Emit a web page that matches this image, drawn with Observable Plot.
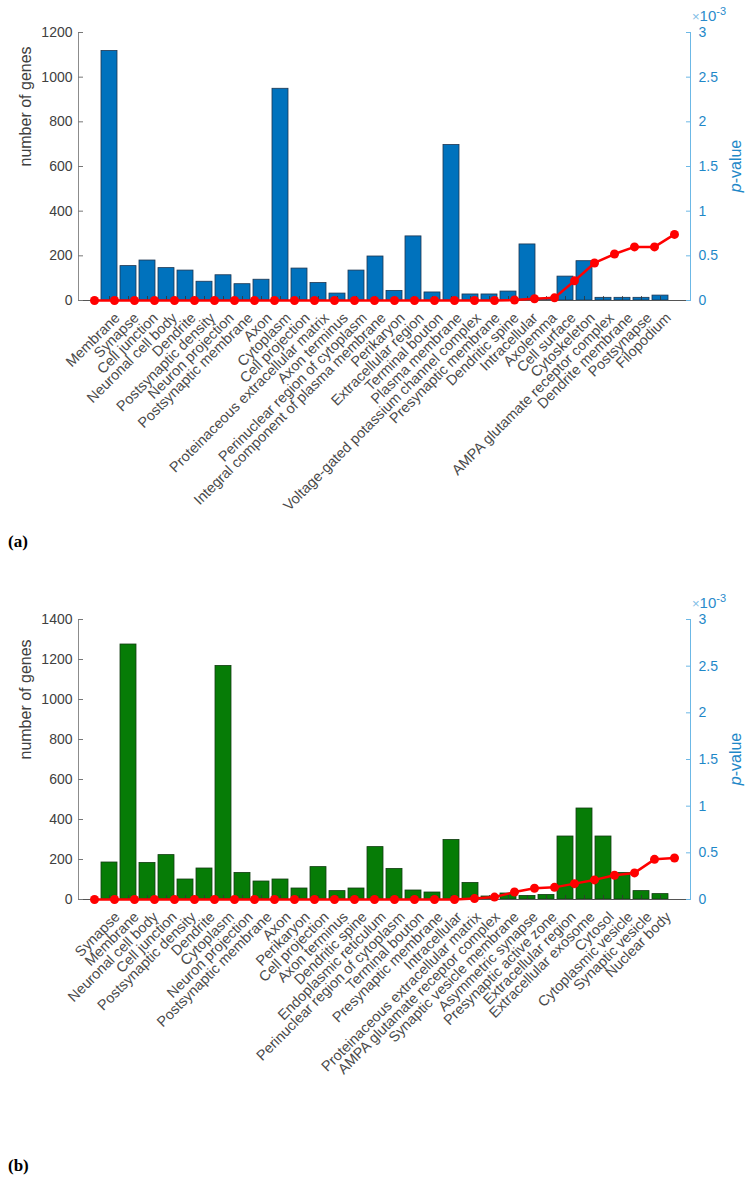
<!DOCTYPE html>
<html>
<head>
<meta charset="utf-8">
<script src="https://cdn.jsdelivr.net/npm/d3@7"></script>
<script src="https://cdn.jsdelivr.net/npm/@observablehq/plot@0.6"></script>
<style>
  body { margin: 0; background: #fff; font-family: "Liberation Sans", Arial, sans-serif; }
  #wrap { position: relative; width: 752px; height: 1180px; overflow: hidden; }
  .layer { position: absolute; left: 0; }
  .tag { position: absolute; left: 8px; font: bold 17px "Liberation Serif", "DejaVu Serif", serif; line-height: 17px; color: #000; }
  .exp { position: absolute; color: #2a8ccc; font-size: 15px; line-height: 15px; white-space: nowrap; }
  .exp .x { color: #7fbde6; font-size: 13px; }
  .exp sup { font-size: 11px; vertical-align: 6px; line-height: 0; }
  .plab { position: absolute; color: #1f88c8; font-size: 16px; line-height: 16px; white-space: nowrap; transform: rotate(-90deg); transform-origin: center center; }
</style>
</head>
<body>
<div id="wrap"></div>
<script>
// ---------- (a) ----------
const catsA = ["Membrane","Synapse","Cell junction","Neuronal cell body","Dendrite","Postsynaptic density","Neuron projection","Postsynaptic membrane","Axon","Cytoplasm","Cell projection","Proteinaceous extracellular matrix","Axon terminus","Perinuclear region of cytoplasm","Integral component of plasma membrane","Perikaryon","Extracellular region","Terminal bouton","Plasma membrane","Voltage-gated potassium channel complex","Presynaptic membrane","Dendritic spine","Intracellular","Axolemma","Cell surface","Cytoskeleton","AMPA glutamate receptor complex","Dendrite membrane","Postsynapse","Filopodium"];
const genesA = [1117,154,179,145,134,84,113,73,93,948,143,78,31,134,197,43,287,36,696,27,27,40,251,8,107,176,12,12,12,22];
const pA = [0,0,0,0,0,0,0,0,0,0,0,0,0,0,0,0,0,0,0,0,0,0.005,0.02,0.03,0.22,0.42,0.52,0.60,0.60,0.74]; // ×10^-3
const genesTicksA = [0,200,400,600,800,1000,1200];

// ---------- (b) ----------
const catsB = ["Synapse","Membrane","Neuronal cell body","Cell junction","Postsynaptic density","Dendrite","Cytoplasm","Neuron projection","Postsynaptic membrane","Axon","Perikaryon","Cell projection","Axon terminus","Dendritic spine","Endoplasmic reticulum","Perinuclear region of cytoplasm","Terminal bouton","Presynaptic membrane","Intracellular","Proteinaceous extracellular matrix","AMPA glutamate receptor complex","Synaptic vesicle membrane","Asymmetric synapse","Presynaptic active zone","Extracellular region","Extracellular exosome","Cytosol","Cytoplasmic vesicle","Synaptic vesicle","Nuclear body"];
const genesB = [185,1275,183,222,100,155,1168,133,90,100,55,162,42,55,262,153,45,35,298,83,15,30,18,23,315,455,315,133,42,27];
const pB = [0,0,0,0,0,0,0,0,0,0,0,0,0,0,0,0,0,0,0,0.01,0.026,0.08,0.12,0.13,0.17,0.21,0.26,0.285,0.43,0.445]; // ×10^-3
const genesTicksB = [0,200,400,600,800,1000,1200,1400];

const pTicks = [0,0.5,1,1.5,2,2.5,3];

const wrap = document.getElementById("wrap");
const FONT = "Liberation Sans, Arial, sans-serif";

function panel({cats, genes, p, yTicks, ymax, fill, edge, top, height, mt, mb, tag, tagTop}) {
  const data = cats.map((c, i) => ({cat: c, genes: genes[i], p: p[i]}));
  const xs = {domain: cats, paddingInner: 0.17, paddingOuter: 0.585, label: null};
  const common = {
    width: 752, height, marginLeft: 78, marginRight: 62, marginTop: mt, marginBottom: mb,
    style: {background: "transparent", fontFamily: FONT, overflow: "visible"}
  };

  const bars = Plot.plot({
    ...common,
    x: xs,
    y: {domain: [0, ymax], label: null},
    marks: [
      Plot.barY(data, {x: "cat", y: "genes", fill, stroke: edge, strokeWidth: 0.8}),
      Plot.ruleY([0], {stroke: "#555"}),
      Plot.frame({anchor: "left", stroke: "#8c8c8c"}),
      Plot.axisY({ticks: yTicks, tickSize: -5, fill: "none", stroke: "#777", label: null}),
      Plot.axisY({ticks: yTicks, tickSize: 0, tickPadding: 6, fill: "#404040", fontSize: 14,
        tickFormat: d => String(d), label: null}),
      Plot.text(["number of genes"], {frameAnchor: "left", rotate: -90, dx: -53, fontSize: 16, fill: "#404040"}),
      Plot.axisX({tickSize: -4, fill: "none", stroke: "#333", strokeWidth: 0.8, label: null}),
      Plot.axisX({tickSize: 0, tickPadding: 6, tickRotate: -45, dx: 8, dy: 9, fill: "#4a4a4a", fontSize: 14.5, label: null})
    ]
  });

  const line = Plot.plot({
    ...common,
    x: {...xs, axis: null},
    y: {domain: [0, 3], label: null},
    marks: [
      Plot.frame({anchor: "right", stroke: "#6cb8e6"}),
      Plot.axisY({anchor: "right", ticks: pTicks, tickSize: -5, fill: "none", stroke: "#6cb8e6", label: null}),
      Plot.axisY({anchor: "right", ticks: pTicks, tickSize: 0, tickPadding: 8, fill: "#1f88c8", fontSize: 14,
        tickFormat: d => String(d), label: null}),
      Plot.lineY(data, {x: "cat", y: "p", stroke: "#ff0000", strokeWidth: 2.5}),
      Plot.dot(data, {x: "cat", y: "p", r: 4.5, fill: "#ff0000"})
    ]
  });

  for (const svg of [bars, line]) {
    svg.classList.add("layer");
    svg.style.top = top + "px";
    wrap.appendChild(svg);
  }

  const exp = document.createElement("div");
  exp.className = "exp";
  exp.innerHTML = "<span class='x'>×</span>10<sup>-3</sup>";
  exp.style.left = "692px";
  exp.style.top = (top + mt - 24) + "px";
  wrap.appendChild(exp);

  const plab = document.createElement("div");
  plab.className = "plab";
  plab.innerHTML = "<i>p</i>-value";
  wrap.appendChild(plab);
  const cy = top + mt + (height - mt - mb) / 2;
  plab.style.left = (736 - plab.offsetWidth / 2) + "px";
  plab.style.top = (cy - 8) + "px";

  const t = document.createElement("div");
  t.className = "tag";
  t.textContent = tag;
  t.style.top = tagTop + "px";
  wrap.appendChild(t);
}

panel({cats: catsA, genes: genesA, p: pA, yTicks: genesTicksA, ymax: 1200,
  fill: "#0072bd", edge: "#1d3550", top: 0, height: 560, mt: 32, mb: 260, tag: "(a)", tagTop: 533});
panel({cats: catsB, genes: genesB, p: pB, yTicks: genesTicksB, ymax: 1400,
  fill: "#067c06", edge: "#123d12", top: 560, height: 620, mt: 59, mb: 281, tag: "(b)", tagTop: 1157});
</script>
</body>
</html>
